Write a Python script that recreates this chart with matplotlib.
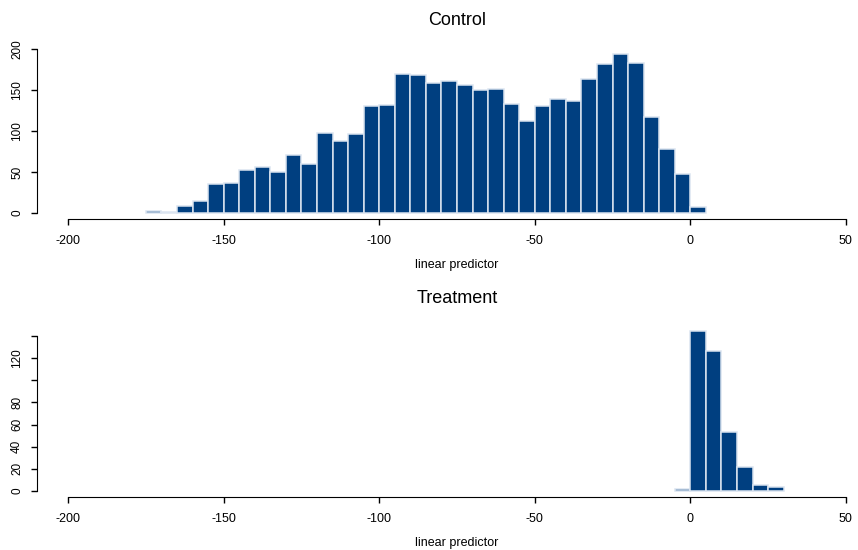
import matplotlib.pyplot as plt
import numpy as np

plt.rcParams['font.family'] = ['Liberation Sans', 'DejaVu Sans']
plt.rcParams['axes.unicode_minus'] = False

# histogram counts, 5-unit bins
bin_width = 5
control_start = -175
control_counts = [2, 1, 8, 15, 35, 37, 52, 56, 50, 71, 60, 97, 88, 96, 131, 132,
                  169, 168, 159, 161, 156, 150, 151, 133, 112, 130, 139, 137,
                  163, 182, 194, 183, 117, 78, 47, 7]
treat_start = -5
treat_counts = [2, 144, 126, 53, 22, 5, 4]

x_ticks = [-200, -150, -100, -50, 0, 50]
control_yticks = [0, 50, 100, 150, 200]
treat_yticks = [0, 20, 40, 60, 80, 100, 120, 140]
treat_ylabels = ['0', '20', '40', '60', '80', '', '120', '']

W, H = 858, 550
fig = plt.figure(figsize=(W / 100, H / 100), dpi=100)


def panel(top_px, bottom_px, start, counts, title, yticks, ylabels):
    ax = fig.add_axes([37 / W, 1 - bottom_px / H, 840 / W, (bottom_px - top_px) / H])
    edges = start + bin_width * np.arange(len(counts))
    ax.bar(edges, counts, width=bin_width, align='edge',
           color='#003f80', edgecolor='#dbe4f0', linewidth=1.1)
    ymax = max(counts)
    ax.set_xlim(-210, 60)
    ax.set_ylim(-0.04 * ymax, 1.04 * ymax)
    for s in ['top', 'right']:
        ax.spines[s].set_visible(False)
    ax.spines['bottom'].set_bounds(-200, 50)
    ax.spines['left'].set_bounds(yticks[0], yticks[-1])
    ax.set_xticks(x_ticks)
    ax.set_yticks(yticks)
    ax.set_yticklabels(ylabels, rotation=90, va='center')
    ax.tick_params(length=4, width=1)
    ax.tick_params(axis='x', labelsize=9, pad=7)
    ax.tick_params(axis='y', labelsize=8.5, pad=6)
    ax.set_xlabel('linear predictor', fontsize=9, labelpad=9)
    ax.set_title(title, fontsize=13, pad=16)
    return ax


panel(47.5, 219.4, control_start, control_counts, 'Control',
      control_yticks, [str(v) for v in control_yticks])
panel(325, 497.4, treat_start, treat_counts, 'Treatment',
      treat_yticks, treat_ylabels)

fig.savefig('out.png', dpi=100)
